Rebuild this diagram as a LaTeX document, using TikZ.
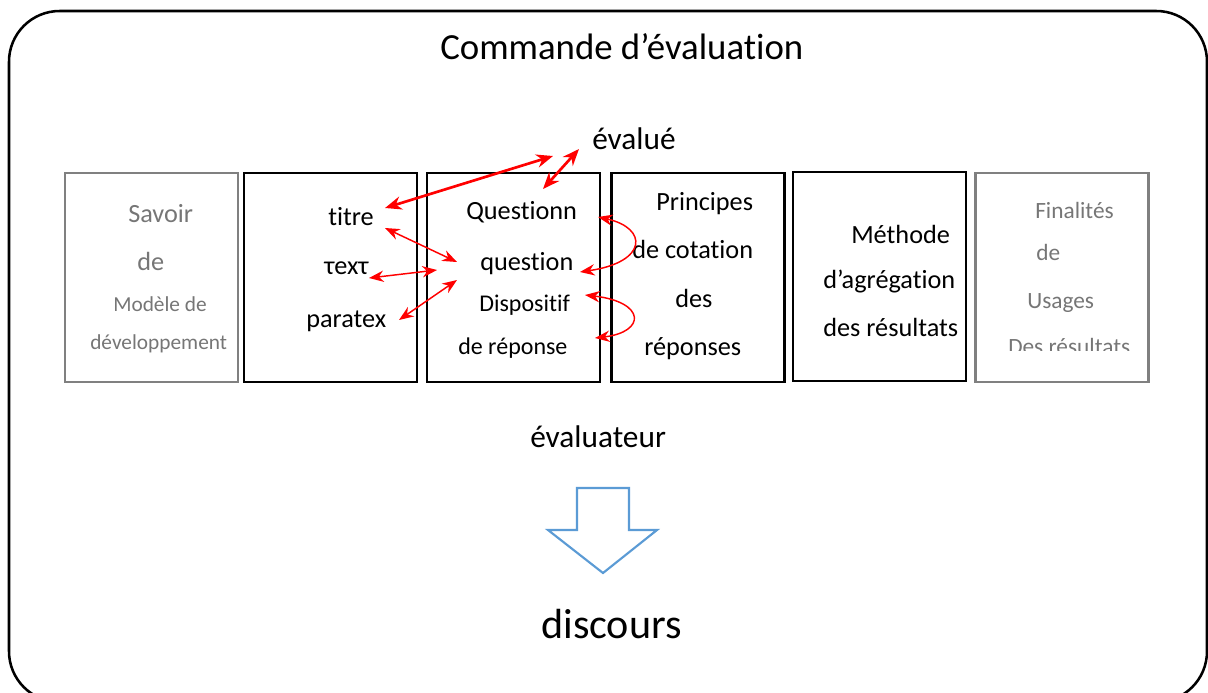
\documentclass[tikz,border=0pt]{standalone}
\usepackage{fontspec}
\setmainfont{Carlito}[Ligatures=NoCommon]
\usetikzlibrary{arrows.meta}
\definecolor{boxgray}{RGB}{128,128,128}
\definecolor{txtgray}{RGB}{118,118,118}
\definecolor{arrowblue}{RGB}{91,155,213}
\definecolor{linkred}{RGB}{255,0,0}
\begin{document}
\begin{tikzpicture}[x=0.75pt,y=-0.75pt,
  bbox/.style={draw=black, line width=2.1pt, minimum width=129.75pt, minimum height=156.75pt, inner sep=0pt},
  gbox/.style={draw=boxgray, line width=2.1pt, minimum width=129.75pt, minimum height=156.75pt, inner sep=0pt},
  txt/.style={anchor=base west, inner sep=0pt, font=\fontsize{19.7}{23}\selectfont},
  smalltxt/.style={anchor=base west, inner sep=0pt, font=\fontsize{18}{21}\selectfont},
  gtxt/.style={txt, text=txtgray},
  gsmall/.style={anchor=base west, inner sep=0pt, text=txtgray, font=\fontsize{16}{19}\selectfont},
  gfin/.style={anchor=base west, inner sep=0pt, text=txtgray, font=\fontsize{17.5}{20}\selectfont},
  bigtxt/.style={anchor=base west, inner sep=0pt, font=\fontsize{23.5}{27}\selectfont},
  thicklink/.style={draw=linkred, line width=2pt, {Stealth[length=12.5pt,width=10pt]}-{Stealth[length=12.5pt,width=10pt]}},
  thinlink/.style={draw=linkred, line width=1.1pt, {Stealth[length=11pt,width=8.5pt]}-{Stealth[length=11pt,width=8.5pt]}},
  bigarrow/.style={draw=arrowblue, line width=1.6pt, line join=miter}
]
\useasboundingbox (0,0) rectangle (1208,693);
% outer frame
\draw[line width=1.9pt, rounded corners=38pt] (9,11) rectangle (1207,702);

% title and labels
\node[anchor=base west, inner sep=0pt, font=\fontsize{27.6}{32}\selectfont] (title) at (440,59) {Commande d’évaluation};
\node[bigtxt] (evalue) at (592,149) {évalué};
\node[bigtxt] (evaluateur) at (530,447) {évaluateur};
\node[anchor=base west, inner sep=0pt, font=\fontsize{31.6}{36}\selectfont] (discours) at (541,638) {discours};

% boxes
\node[gbox] (b1) at (151.5,277.5) {};
\node[bbox] (b2) at (330.5,277.5) {};
\node[bbox] (b3) at (513.5,277.5) {};
\node[bbox] (b4) at (698,277.5) {};
\node[bbox] (b5) at (879.5,276.5) {};
\node[gbox] (b6) at (1062,277.5) {};

% box 1
\node[gtxt] (savoir) at (128,222) {Savoir};
\node[gtxt] (de1) at (137,270) {de};
\node[gsmall] (modele) at (113,311) {Modèle de};
\node[gsmall] (dev) at (90,349) {développement};

% box 2
\node[txt] (titre) at (328,225) {titre};
\node[txt] (texte) at (324,274) {τexτ};
\node[txt] (paratex) at (306,327) {paratex};

% box 3
\node[txt] (questionn) at (466,219) {Questionn};
\node[txt] (question) at (480,270) {question};
\node[smalltxt] (dispositif) at (479,311) {Dispositif};
\node[smalltxt] (dereponse) at (458,354) {de réponse};

% box 4
\node[txt] (principes) at (656,210) {Principes};
\node[txt] (cotation) at (632,258) {de cotation};
\node[txt] (des4) at (675,307) {des};
\node[txt] (reponses) at (644,355) {réponses};

% box 5
\node[txt] (methode) at (851,243) {Méthode};
\node[txt] (agregation) at (823,288) {d’agrégation};
\node[txt] (resultats) at (823,336) {des résultats};

% box 6
\node[gfin] (finalites) at (1035,218) {Finalités};
\node[gfin] (de6) at (1036,260) {de};
\node[gfin] (usages) at (1027,308) {Usages};
\begin{scope}
\clip (980,320) rectangle (1145,350);
\node[gfin] (desres) at (1008,354) {Des résultats};
\end{scope}

% arrow end points
\coordinate (a1s) at (385,208);
\coordinate (a1e) at (553,156);
\coordinate (a2s) at (543,189);
\coordinate (a2e) at (579,149);
\coordinate (a3s) at (385,228);
\coordinate (a3e) at (457,262);
\coordinate (a4s) at (369,278);
\coordinate (a4e) at (437,270);
\coordinate (a5s) at (399,320);
\coordinate (a5e) at (457,280);
\coordinate (c1s) at (598,217);
\coordinate (c1e) at (580,272);
\coordinate (c2s) at (585,295);
\coordinate (c2e) at (595,338);

\draw[thicklink] (a1s) -- (a1e);
\draw[thicklink] (a2s) -- (a2e);
\draw[thinlink] (a3s) -- (a3e);
\draw[thinlink] (a4s) -- (a4e);
\draw[thinlink] (a5s) -- (a5e);
\draw[thinlink] (c1s) .. controls (648,228) and (648,262) .. (c1e);
\draw[thinlink] (c2s) .. controls (646,302) and (646,332) .. (c2e);

% big down arrow
\draw[bigarrow] (577,488) -- (629,488) -- (629,530) -- (657,530) -- (603,573) -- (548,530) -- (577,530) -- cycle;
\end{tikzpicture}
\end{document}
